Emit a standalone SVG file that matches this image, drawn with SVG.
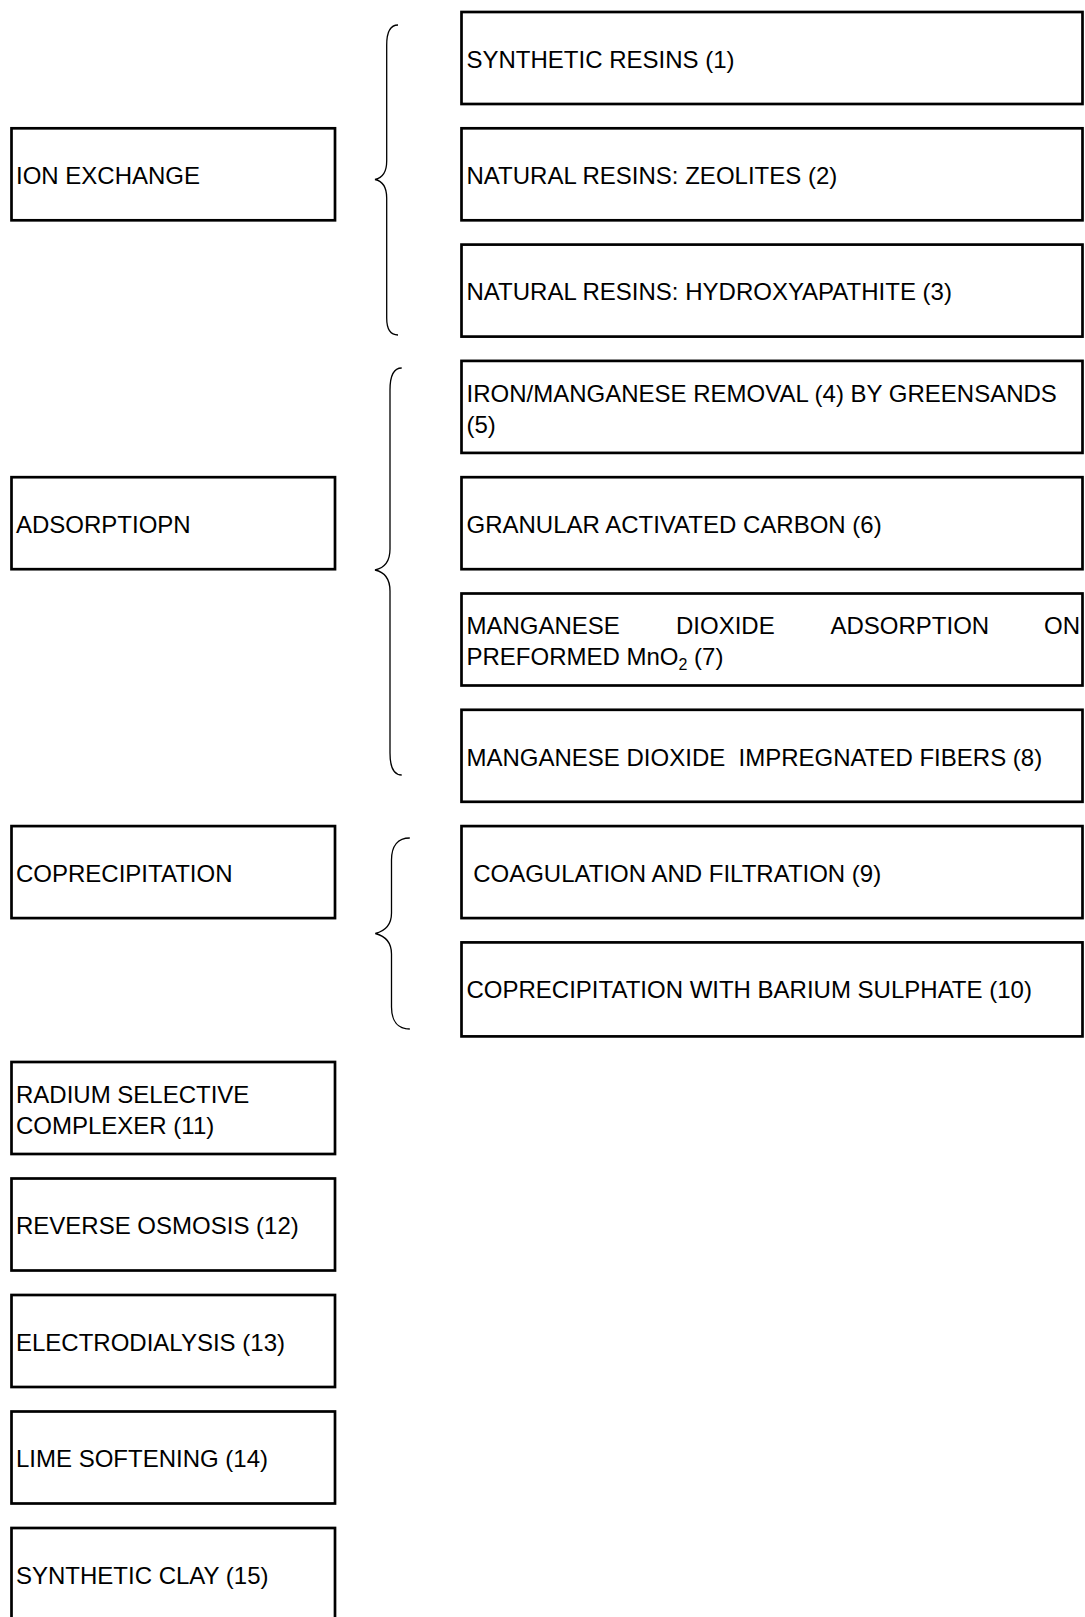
<svg xmlns="http://www.w3.org/2000/svg" width="1085" height="1617" viewBox="0 0 1085 1617">
<style>
.box{fill:#fff;stroke:#000;stroke-width:2.7}
.t{font-family:"Liberation Sans",Arial,sans-serif;font-size:24px;fill:#000}
.br{fill:none;stroke:#000;stroke-width:1.3}
</style>
<rect x="0" y="0" width="1085" height="1617" fill="#fff"/>
<g id="connectors">
<path class="br" d="M398,25 C391,25 386.7,31 386.7,45 L386.7,161 C386.7,172 382,178 375,179.5 C382,181 386.7,187 386.7,198 L386.7,318 C386.7,330 391,335 398,335"/>
<path class="br" d="M401.7,368 C394,368 390,375 390,390 L390,549 C390,561 384,568 375,570 C384,572 390,579 390,591 L390,753 C390,767 394,775 401.7,775"/>
<path class="br" d="M409.8,838 C398,838 391.5,846 391.5,860 L391.5,913 C391.5,925 385,931 375.3,933.5 C385,936 391.5,942 391.5,954 L391.5,1007 C391.5,1021 398,1029 409.8,1029"/>
</g>
<g id="n1"><rect class="box" x="461.5" y="12" width="621" height="92"/><text class="t" x="466.5" y="67.8">SYNTHETIC RESINS (1)</text></g>
<g id="n2"><rect class="box" x="461.5" y="128.3" width="621" height="92"/><text class="t" x="466.5" y="184.1">NATURAL RESINS: ZEOLITES (2)</text></g>
<g id="n3"><rect class="box" x="461.5" y="244.6" width="621" height="92"/><text class="t" x="466.5" y="300.4">NATURAL RESINS: HYDROXYAPATHITE (3)</text></g>
<g id="n4"><rect class="box" x="461.5" y="360.9" width="621" height="92"/><text class="t" x="466.5" y="401.5">IRON/MANGANESE REMOVAL (4) BY GREENSANDS</text><text class="t" x="466.5" y="432.5">(5)</text></g>
<g id="n5"><rect class="box" x="461.5" y="477.2" width="621" height="92"/><text class="t" x="466.5" y="533">GRANULAR ACTIVATED CARBON (6)</text></g>
<g id="n6"><rect class="box" x="461.5" y="593.5" width="621" height="92"/><text class="t" x="466.5" y="634.1">MANGANESE</text><text class="t" x="676" y="634.1">DIOXIDE</text><text class="t" x="830.5" y="634.1">ADSORPTION</text><text class="t" x="1080" y="634.1" text-anchor="end">ON</text><text class="t" x="466.5" y="665.1">PREFORMED MnO<tspan font-size="16" dy="5">2</tspan><tspan dy="-5"> (7)</tspan></text></g>
<g id="n7"><rect class="box" x="461.5" y="709.8" width="621" height="92"/><text class="t" x="466.5" y="765.6" xml:space="preserve">MANGANESE DIOXIDE  IMPREGNATED FIBERS (8)</text></g>
<g id="n8"><rect class="box" x="461.5" y="826.1" width="621" height="92"/><text class="t" x="466.5" y="881.9" xml:space="preserve"> COAGULATION AND FILTRATION (9)</text></g>
<g id="n9"><rect class="box" x="461.5" y="942.4" width="621" height="94"/><text class="t" x="466.5" y="998.2">COPRECIPITATION WITH BARIUM SULPHATE (10)</text></g>
<g id="l1"><rect class="box" x="11.5" y="128.3" width="323.5" height="92"/><text class="t" x="16" y="184.1">ION EXCHANGE</text></g>
<g id="l2"><rect class="box" x="11.5" y="477.2" width="323.5" height="92"/><text class="t" x="16" y="533">ADSORPTIOPN</text></g>
<g id="l3"><rect class="box" x="11.5" y="826.1" width="323.5" height="92"/><text class="t" x="16" y="881.9">COPRECIPITATION</text></g>
<g id="l4"><rect class="box" x="11.5" y="1062" width="323.5" height="92"/><text class="t" x="16" y="1103">RADIUM SELECTIVE</text><text class="t" x="16" y="1134">COMPLEXER (11)</text></g>
<g id="l5"><rect class="box" x="11.5" y="1178.5" width="323.5" height="92"/><text class="t" x="16" y="1234.3">REVERSE OSMOSIS (12)</text></g>
<g id="l6"><rect class="box" x="11.5" y="1295" width="323.5" height="92"/><text class="t" x="16" y="1350.8">ELECTRODIALYSIS (13)</text></g>
<g id="l7"><rect class="box" x="11.5" y="1411.5" width="323.5" height="92"/><text class="t" x="16" y="1467.3">LIME SOFTENING (14)</text></g>
<g id="l8"><rect class="box" x="11.5" y="1528" width="323.5" height="92"/><text class="t" x="16" y="1583.8">SYNTHETIC CLAY (15)</text></g>
</svg>
